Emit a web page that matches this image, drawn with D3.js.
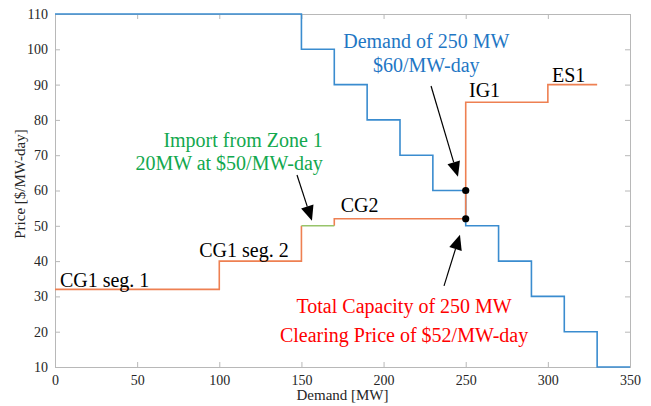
<!DOCTYPE html>
<html><head><meta charset="utf-8">
<script src="https://cdn.jsdelivr.net/npm/d3@7"></script>
<style>body{margin:0;background:#fff}svg{display:block}text{font-family:"Liberation Serif","Times New Roman",serif}</style>
</head><body><div id="chart"></div>
<script>
// Demand curve (step after)
const demandMW    = [0,150,170,190,210,230,250,270,290,310,330,350];
const demandPrice = [110,100,90,80,70,60,50,40,30,20,10,10];
// Supply: CG1 seg.1, CG1 seg.2 (orange), import (green), CG2, IG1, ES1 (orange)
const supplyA_MW    = [0,100,150];
const supplyA_Price = [32,40,50];
const importMW      = [150,170];
const importPrice   = [50,50];
const supplyB_MW    = [170,170,250,300,330];
const supplyB_Price = [50,52,85,90,90];
// Clearing points
const dotMW    = [250,250];
const dotPrice = [60,52];
const xTicks = [0,50,100,150,200,250,300,350];
const yTicks = [10,20,30,40,50,60,70,80,90,100,110];

const W=651,H=406, L=55,R=630,T=14,B=367;
const svg=d3.select("#chart").append("svg").attr("width",W).attr("height",H);
const x=d3.scaleLinear().domain([0,350]).range([L,R]);
const y=d3.scaleLinear().domain([10,110]).range([B,T]);

const frame="#b8b8b8", tickTxt="#262626";
// axes
const gx=svg.append("g").attr("transform",`translate(0,${B})`)
  .call(d3.axisBottom(x).tickValues(xTicks).tickSize(-5).tickPadding(8).tickFormat(d3.format("d")));
const gxt=svg.append("g").attr("transform",`translate(0,${T})`)
  .call(d3.axisTop(x).tickValues(xTicks).tickSize(-5).tickFormat(""));
const gy=svg.append("g").attr("transform",`translate(${L},0)`)
  .call(d3.axisLeft(y).tickValues(yTicks).tickSize(-5).tickPadding(7).tickFormat(d3.format("d")));
const gyr=svg.append("g").attr("transform",`translate(${R},0)`)
  .call(d3.axisRight(y).tickValues(yTicks).tickSize(-5).tickFormat(""));
[gx,gxt,gy,gyr].forEach(g=>{
  g.select(".domain").attr("stroke",frame);
  g.selectAll(".tick line").attr("stroke",frame);
  g.selectAll(".tick text").attr("fill",tickTxt).style("font-size","14px").style("font-family","Liberation Serif");
});

svg.append("text").attr("x",(L+R)/2).attr("y",400).attr("text-anchor","middle")
  .attr("fill",tickTxt).style("font-size","15px").text("Demand [MW]");
svg.append("text").attr("transform",`translate(25,184) rotate(-90)`).attr("text-anchor","middle")
  .attr("fill",tickTxt).style("font-size","15px").text("Price [$/MW-day]");

const line=d3.line().x(d=>x(d[0])).y(d=>y(d[1])).curve(d3.curveStepAfter);
const zip=(a,b)=>a.map((v,i)=>[v,b[i]]);
const blue="#3a8ccf", orange="#ee8052", green="#98c46a";
svg.append("path").attr("d",line(zip(demandMW,demandPrice))).attr("fill","none").attr("stroke",blue).attr("stroke-width",1.6);
svg.append("path").attr("d",line(zip(supplyA_MW,supplyA_Price))).attr("fill","none").attr("stroke",orange).attr("stroke-width",1.6);
svg.append("path").attr("d",line(zip(supplyB_MW,supplyB_Price))).attr("fill","none").attr("stroke",orange).attr("stroke-width",1.6);
svg.append("path").attr("d",line(zip(importMW,importPrice))).attr("fill","none").attr("stroke",green).attr("stroke-width",1.6);

svg.selectAll("circle.dot").data(zip(dotMW,dotPrice)).enter().append("circle")
  .attr("cx",d=>x(d[0])).attr("cy",d=>y(d[1])).attr("r",3.6).attr("fill","#000");

// arrows (data coords)
const arrows=[
  {from:[228.9,89.6],to:[245.3,63.9]},
  {from:[147.3,64.4],to:[156.4,51.4]},
  {from:[236.8,33.0],to:[246.5,47.5]}
];
arrows.forEach(a=>{
  const x1=x(a.from[0]),y1=y(a.from[1]),x2=x(a.to[0]),y2=y(a.to[1]);
  const ang=Math.atan2(y2-y1,x2-x1), hl=15, hw=6.5;
  const bx=x2-hl*Math.cos(ang), by=y2-hl*Math.sin(ang);
  svg.append("line").attr("x1",x1).attr("y1",y1).attr("x2",bx).attr("y2",by).attr("stroke","#000").attr("stroke-width",1.2);
  const px=-Math.sin(ang), py=Math.cos(ang);
  svg.append("path").attr("d",`M${x2},${y2}L${bx+hw*px},${by+hw*py}L${bx-hw*px},${by-hw*py}Z`).attr("fill","#000");
});

// labels (data coords)
const labels=[
  {t:"Demand of 250 MW",x:226,y:100.4,a:"middle",c:"#1f77c4"},
  {t:"$60/MW-day",x:226,y:93.6,a:"middle",c:"#1f77c4"},
  {t:"IG1",x:252,y:86.5,a:"start",c:"#000"},
  {t:"ES1",x:302.5,y:90.7,a:"start",c:"#000"},
  {t:"Import from Zone 1",x:163,y:72.4,a:"end",c:"#12a84e"},
  {t:"20MW at $50/MW-day",x:163,y:65.8,a:"end",c:"#12a84e"},
  {t:"CG2",x:173.9,y:53.9,a:"start",c:"#000"},
  {t:"CG1 seg. 2",x:87.8,y:41.2,a:"start",c:"#000"},
  {t:"CG1 seg. 1",x:3,y:32.8,a:"start",c:"#000"},
  {t:"Total Capacity of 250 MW",x:212.5,y:25.4,a:"middle",c:"#ff0000"},
  {t:"Clearing Price of $52/MW-day",x:212.5,y:17.2,a:"middle",c:"#ff0000"}
];
svg.selectAll("text.lab").data(labels).enter().append("text").attr("class","lab")
  .attr("x",d=>x(d.x)).attr("y",d=>y(d.y)).attr("text-anchor",d=>d.a).attr("fill",d=>d.c)
  .style("font-size","20px").text(d=>d.t);
</script></body></html>
